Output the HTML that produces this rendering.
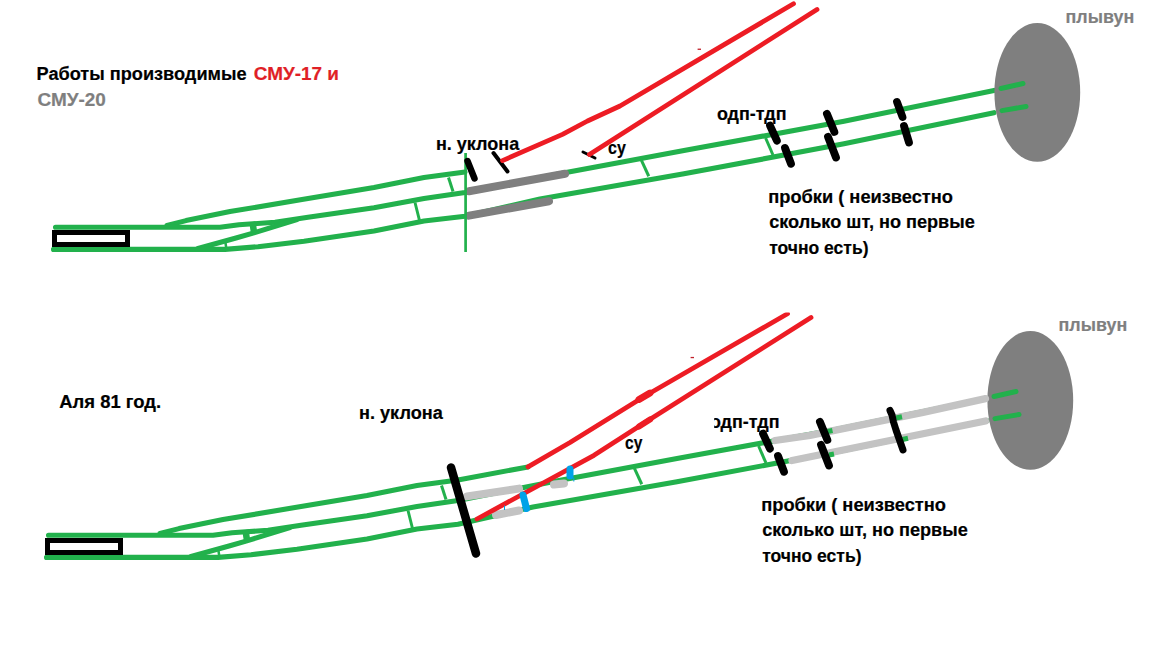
<!DOCTYPE html>
<html><head><meta charset="utf-8">
<style>
html,body{margin:0;padding:0;background:#fff;width:1152px;height:648px;overflow:hidden}
svg{display:block}
text{font-family:"Liberation Sans",sans-serif;font-weight:bold;font-size:18.67px}
</style></head>
<body>
<svg width="1152" height="648" viewBox="0 0 1152 648">
<defs>
<g id="base">
<g fill="none" stroke="#22b14c" stroke-width="5.1" stroke-linecap="round" stroke-linejoin="round">
<polyline points="167,225.5 186,220.6 230,211.6 302,199.5 374,187.5 424,177.5 465,172" />
<polyline points="55.5,227.3 220,227.3 239,224.7 253,223.8 275,222.2 308,217.3 374,207.8 424,198.5 465,192.5 566,172.5 684,150.6 844,121.3 994,90.4" />
<polyline points="198,248.5 236,238 254.75,232.6 297,219.5" />
<polyline points="53.5,249.4 225,249.4 258,246.7 304,241.2 374,230.9 424,221 465,216.2 540,199 684,173.8 844,143.8 994,112.7" />
<line x1="252.5" y1="222" x2="254" y2="232.5" stroke-width="6.5" stroke-linecap="butt"/>
<line x1="225.5" y1="243" x2="226.5" y2="249.5" stroke-width="2.5" stroke-linecap="butt"/>
</g>
<g stroke="#22b14c" stroke-width="3">
<line x1="448.5" y1="177.5" x2="453" y2="191.5" />
<line x1="415" y1="202.5" x2="419.4" y2="220" />
<line x1="641" y1="159.4" x2="648.75" y2="176.25" />
<line x1="765.6" y1="138" x2="773" y2="155" />
</g>
<rect x="54.5" y="232.5" width="73" height="12" fill="none" stroke="#000" stroke-width="5"/>
<ellipse cx="1037.3" cy="92.4" rx="42.9" ry="69.3" fill="#7f7f7f"/>
<g stroke="#22b14c" stroke-width="5" stroke-linecap="round">
<line x1="1001" y1="88.5" x2="1023" y2="83.5" />
<line x1="1002" y1="110.6" x2="1026" y2="106.5" />
</g>
<text transform="translate(716.9,120) scale(0.96,1)" fill="#000" stroke="#000" stroke-width="0.2" >одп-тдп</text>
<text transform="translate(1065.54,23) scale(0.957,1)" fill="#7f7f7f" stroke="#7f7f7f" stroke-width="0.2" >плывун</text>
<text transform="translate(768.22,202.9) scale(0.978,1)" fill="#000" stroke="#000" stroke-width="0.2" >пробки ( неизвестно</text>
<text transform="translate(769.2,228.3) scale(0.971,1)" fill="#000" stroke="#000" stroke-width="0.2" >сколько шт, но первые</text>
<text transform="translate(769.2,254) scale(0.938,1)" fill="#000" stroke="#000" stroke-width="0.2" >точно есть)</text>
</g>
<g id="ties">
<g stroke="#000" stroke-width="7.8" stroke-linecap="round">
<line x1="770" y1="125.6" x2="776.9" y2="140.6" />
<line x1="785" y1="148" x2="791" y2="163.75" />
<line x1="826.9" y1="113.75" x2="834.4" y2="131.9" />
<line x1="828" y1="136.9" x2="836" y2="157.5" />
</g>
</g>
</defs>
<use href="#base"/>
<text transform="translate(36.53,80.3) scale(0.973,1)" fill="#000" stroke="#000" stroke-width="0.2" >Работы производимые</text>
<text transform="translate(253.8,80.3) scale(1.013,1)" fill="#e01f26" stroke="#e01f26" stroke-width="0.2" >СМУ-17 и</text>
<text transform="translate(37.5,105.5) scale(1.015,1)" fill="#7f7f7f" stroke="#7f7f7f" stroke-width="0.2" >СМУ-20</text>
<text transform="translate(435.93,150) scale(0.966,1)" fill="#000" stroke="#000" stroke-width="0.2" >н. уклона</text>
<text transform="translate(608,153.5) scale(0.857,1)" fill="#000" stroke="#000" stroke-width="0.2" >су</text>
<g stroke="#7f7f7f" stroke-width="8" stroke-linecap="round">
<line x1="469" y1="191.2" x2="565" y2="173.75" />
<line x1="469" y1="215.6" x2="549" y2="201.2" />
</g>
<line x1="465.6" y1="153" x2="465.6" y2="252" stroke="#22b14c" stroke-width="2.7"/>
<use href="#ties"/>
<g stroke="#000" stroke-width="7.8" stroke-linecap="round"><line x1="897" y1="102" x2="902.5" y2="117" /><line x1="904" y1="126" x2="909" y2="142.5" /></g>
<g stroke="#000" stroke-linecap="round">
<line x1="467.5" y1="161" x2="474.5" y2="178.5" stroke-width="6.5"/>
<line x1="493.5" y1="153" x2="507.5" y2="171.5" stroke-width="4"/>
<line x1="583" y1="152" x2="595" y2="158" stroke-width="3"/>
</g>
<g fill="none" stroke="#ed1c24" stroke-width="4.8" stroke-linecap="round" stroke-linejoin="round">
<polyline points="502.5,160.6 562.5,134.4 587.5,121 620,106 793.5,3.75" />
<polyline points="589.4,154.4 817,9.5" />
</g>
<rect x="697.6" y="48.6" width="3.4" height="1.3" fill="#c0202a"/>
<g transform="translate(-7,308)"><use href="#base"/></g>
<text transform="translate(59.25,408) scale(0.988,1)" fill="#000" stroke="#000" stroke-width="0.2" >Аля 81 год.</text>
<text transform="translate(359.03,418.75) scale(0.971,1)" fill="#000" stroke="#000" stroke-width="0.2" >н. уклона</text>
<text transform="translate(625,448.75) scale(0.833,1)" fill="#000" stroke="#000" stroke-width="0.2" >су</text>
<polyline points="458,480 528,466.9" fill="none" stroke="#22b14c" stroke-width="5.1" stroke-linecap="round"/>
<g stroke="#c3c3c3" stroke-width="8" stroke-linecap="round">
<line x1="467" y1="496.4" x2="519" y2="488.6" />
<line x1="496" y1="515" x2="519" y2="510.5" />
<line x1="554" y1="484.5" x2="564" y2="483.5" />
<polyline points="775,440.5 810,435.3 923,412.3 985.5,398.6" fill="none" stroke-width="7.3" stroke-linecap="round"/>
<line x1="792" y1="460.5" x2="985.5" y2="421" stroke-width="7.3"/>
</g>
<g stroke="#22b14c" stroke-width="5">
<line x1="827.5" y1="431.5" x2="832.5" y2="430.5" />
<line x1="829" y1="455" x2="834" y2="454" />
<line x1="896" y1="418" x2="902" y2="416.8" />
<line x1="902.5" y1="439.5" x2="908" y2="438.3" />
</g>
<g transform="translate(-7,308)"><use href="#ties"/></g>
<polyline points="890,410.5 892,415 893.5,422 896,430 899.5,440 903,450" fill="none" stroke="#000" stroke-width="7" stroke-linecap="round" stroke-linejoin="round"/>
<g fill="none" stroke="#ed1c24" stroke-width="4.8" stroke-linecap="round" stroke-linejoin="round">
<polyline points="528,466.9 570,442.5 645,396 787.5,313.75" />
<polyline points="477,519 594,455.3 645,422.5 811,317.5" />
</g>
<rect x="690.6" y="356.9" width="3.4" height="1.3" fill="#c0202a"/>
<g stroke="#00a2e8" stroke-width="7" stroke-linecap="round">
<line x1="523" y1="495" x2="526.5" y2="508.5" />
<line x1="570" y1="469" x2="570" y2="476" />
</g>
<g stroke="#00a2e8" stroke-width="1">
<line x1="504.5" y1="505.5" x2="504.5" y2="510" />
<line x1="573.8" y1="477.5" x2="573.8" y2="481.5" />
</g>
<line x1="451" y1="467.5" x2="476" y2="553.5" stroke="#000" stroke-width="8.5" stroke-linecap="round"/>
<line x1="639" y1="399.5" x2="650" y2="393" stroke="#ed1c24" stroke-width="6.8" stroke-linecap="round"/>
<line x1="639" y1="426.5" x2="650" y2="419.5" stroke="#ed1c24" stroke-width="6.2" stroke-linecap="round"/>
<rect x="770" y="290" width="40" height="22.5" fill="#fff"/>
<rect x="700" y="412" width="14.2" height="22" fill="#fff"/>
</svg>
</body></html>
